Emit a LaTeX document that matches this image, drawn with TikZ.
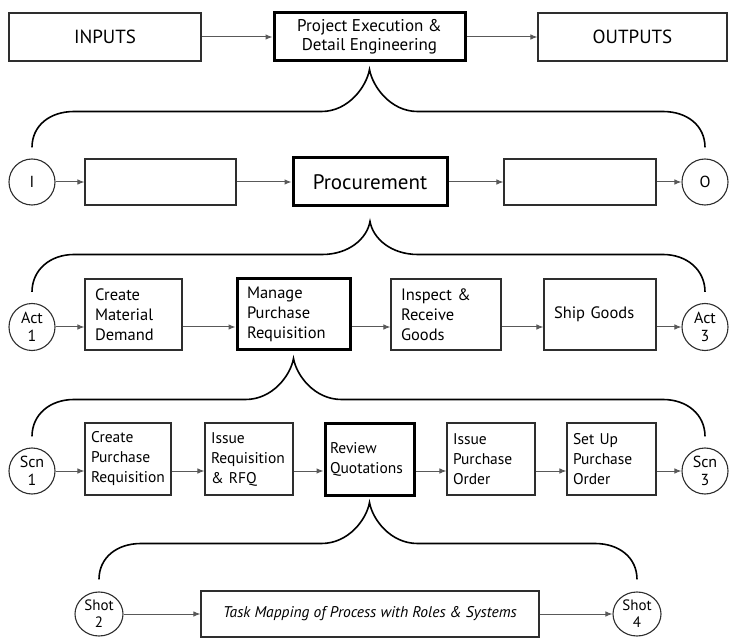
\documentclass[tikz,border=0pt]{standalone}
\usepackage{fontspec}
\setmainfont{PT Sans}
\usetikzlibrary{arrows.meta,calc,shapes.geometric}

\definecolor{boxline}{gray}{0.18}
\definecolor{arrowgray}{gray}{0.35}

% curly brace from the bottom of a node (#1) fanning out to two end points (#2, #3);
% #4 is how far below the tip the horizontal bar runs
\newcommand{\bracelink}[4]{%
  \coordinate (bar) at ($(#1)+(0,#4)$);
  \coordinate (barL) at (#2 |- bar);
  \coordinate (barR) at (#3 |- bar);
  \draw[bracestyle]
    (#2) .. controls +(0,-22) and +(-24,0) .. ([xshift=42pt]barL)
    -- ([xshift=-48pt]bar) .. controls +(27,0) and +(-3,17) .. (#1)
    .. controls +(3,17) and +(-27,0) .. ([xshift=48pt]bar)
    -- ([xshift=-42pt]barR) .. controls +(24,0) and +(0,-22) .. (#3);
}

\begin{document}
\begin{tikzpicture}[x=1pt,y=-1pt,
  box/.style={draw=boxline, line width=1.1pt, rectangle, inner sep=0pt, align=center},
  keybox/.style={box, draw=black, line width=3pt},
  circ/.style={draw=boxline, line width=1.1pt, ellipse, inner sep=0pt, align=center},
  arr/.style={draw=arrowgray, line width=1pt, -{Latex[length=7pt,width=5.5pt]}},
  bracestyle/.style={draw=black, line width=1.6pt},
  capstext/.style={font=\fontsize{19}{21}\selectfont},
  toptext/.style={font=\fontsize{17}{19}\selectfont},
  midtext/.style={font=\fontsize{21}{24}\selectfont},
  acttext/.style={font=\fontsize{16.5}{20}\selectfont},
  scntext/.style={font=\fontsize{15.5}{20}\selectfont},
  circtext/.style={font=\fontsize{16}{18}\selectfont},
]
\useasboundingbox (0,0) rectangle (729,639);

% ---- level 1: project phase
\node[box, capstext, minimum width=192pt, minimum height=48pt] (inputs) at (105,37) {INPUTS};
\node[keybox, toptext, minimum width=191pt, minimum height=48pt] (proj) at (369.5,37) {Project Execution \&\\Detail Engineering};
\node[box, capstext, minimum width=189pt, minimum height=48pt] (outputs) at (632.5,37) {OUTPUTS};
\draw[arr] (inputs.east) -- (proj.west);
\draw[arr] (proj.east) -- (outputs.west);

% ---- level 2: process
\node[circ, circtext, minimum width=46pt, minimum height=46pt] (iin) at (32,182) {I};
\node[box, minimum width=151pt, minimum height=46pt] (pre) at (160.5,182) {};
\node[keybox, midtext, minimum width=154pt, minimum height=48pt] (proc) at (370,182) {Procurement};
\node[box, minimum width=152pt, minimum height=46pt] (post) at (580,182) {};
\node[circ, circtext, minimum width=46pt, minimum height=46pt] (oout) at (705,182) {O};
\draw[arr] (iin) -- (pre);
\draw[arr] (pre) -- (proc);
\draw[arr] (proc) -- (post);
\draw[arr] (post) -- (oout);

% ---- level 3: activities
\node[circ, circtext, minimum width=46pt, minimum height=47pt] (act1) at (32,327) {Act\\1};
\node[box, acttext, align=left, text width=77pt, inner xsep=10pt, minimum height=71pt] (demand) at (133.5,314.5) {Create\\Material\\Demand};
\node[keybox, acttext, align=left, text width=93pt, inner xsep=10pt, minimum height=71pt] (manage) at (293.5,314.5) {Manage\\Purchase\\Requisition};
\node[box, acttext, align=left, text width=90pt, inner xsep=10pt, minimum height=71pt] (inspect) at (446,314.5) {Inspect \&\\Receive\\Goods};
\node[box, acttext, align=left, text width=92pt, inner xsep=10pt, minimum height=71pt] (ship) at (600,314.5) {Ship Goods};
\node[circ, circtext, minimum width=46pt, minimum height=47pt] (act3) at (705,327) {Act\\3};
\draw[arr] (act1) -- (act1 -| demand.west);
\draw[arr] (demand.east |- act1) -- (manage.west |- act1);
\draw[arr] (manage.east |- act1) -- (inspect.west |- act1);
\draw[arr] (inspect.east |- act1) -- (ship.west |- act1);
\draw[arr] (ship.east |- act3) -- (act3);

% ---- level 4: scenarios
\node[circ, circtext, minimum width=46pt, minimum height=46pt] (scn1) at (32,471) {Scn\\1};
\node[box, scntext, align=left, text width=74pt, inner xsep=6pt, minimum height=72pt] (createpr) at (128,459) {Create\\Purchase\\Requisition};
\node[box, scntext, align=left, text width=76pt, inner xsep=6pt, minimum height=72pt] (rfq) at (249,459) {Issue\\Requisition\\\& RFQ};
\node[keybox, scntext, align=left, text width=79pt, inner xsep=5pt, minimum height=72pt] (review) at (369.5,459) {Review\\Quotations};
\node[box, scntext, align=left, text width=76pt, inner xsep=6pt, minimum height=72pt] (issuepo) at (491,459) {Issue\\Purchase\\Order};
\node[box, scntext, align=left, text width=77pt, inner xsep=6pt, minimum height=72pt] (setup) at (611.5,459) {Set Up\\Purchase\\Order};
\node[circ, circtext, minimum width=46pt, minimum height=46pt] (scn3) at (705,471) {Scn\\3};
\draw[arr] (scn1) -- (scn1 -| createpr.west);
\draw[arr] (createpr.east |- scn1) -- (rfq.west |- scn1);
\draw[arr] (rfq.east |- scn1) -- (review.west |- scn1);
\draw[arr] (review.east |- scn1) -- (issuepo.west |- scn1);
\draw[arr] (issuepo.east |- scn1) -- (setup.west |- scn1);
\draw[arr] (setup.east |- scn3) -- (scn3);

% ---- level 5: shots
\node[circ, font=\fontsize{15}{17}\selectfont, minimum width=48pt, minimum height=44pt] (shot2) at (99,614) {Shot\\2};
\node[box, font=\fontsize{15.5}{17}\selectfont\itshape, minimum width=338pt, minimum height=46pt] (task) at (370,614) {Task Mapping of Process with Roles \& Systems};
\node[circ, font=\fontsize{15}{17}\selectfont, minimum width=48pt, minimum height=44pt] (shot4) at (637,614) {Shot\\4};
\draw[arr] (shot2) -- (task);
\draw[arr] (task) -- (shot4);

% ---- braces expanding each highlighted step into the next level
\coordinate (t1) at ($(proj.south)+(0,7)$);
\coordinate (l1) at ($(iin.north)+(0,-11)$);
\coordinate (r1) at ($(oout.north)+(0,-11)$);
\bracelink{t1}{l1}{r1}{42}

\coordinate (t2) at ($(proc.south)+(0,14)$);
\coordinate (l2) at ($(act1.north)+(0,-11)$);
\coordinate (r2) at ($(act3.north)+(0,-11)$);
\bracelink{t2}{l2}{r2}{33}

\coordinate (t3) at ($(manage.south)+(0,7)$);
\coordinate (l3) at ($(scn1.north)+(0,-11)$);
\coordinate (r3) at ($(scn3.north)+(0,-11)$);
\bracelink{t3}{l3}{r3}{41}

\coordinate (t4) at ($(review.south)+(0,6)$);
\coordinate (l4) at ($(shot2.north)+(0,-12)$);
\coordinate (r4) at ($(shot4.north)+(0,-12)$);
\bracelink{t4}{l4}{r4}{41}
\end{tikzpicture}
\end{document}
